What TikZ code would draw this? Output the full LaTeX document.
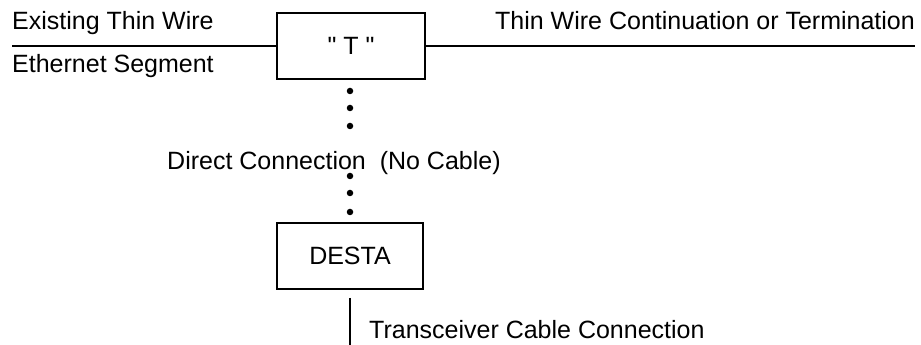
\documentclass[tikz,border=0pt]{standalone}
\usepackage{fontspec}
\setmainfont{Liberation Sans}
\newfontfamily\plainsans{Liberation Sans}
\begin{document}
\begin{tikzpicture}[x=1pt,y=1pt,
  every node/.style={font=\fontsize{25}{30}\selectfont, inner sep=0pt},
  box/.style={draw, line width=1.6pt, minimum height=66pt},
  wire/.style={line width=1.6pt},
  dot/.style={circle, fill=black, minimum size=6.5pt, inner sep=0pt}]
\useasboundingbox (0,0) rectangle (921,345);
% boxes
\node[box, minimum width=148pt] (T) at (351,299) {\plainsans " T "};
\node[box, minimum width=146pt] (desta) at (350,89) {DESTA};
% wire ends
\coordinate (wl) at (12,299);
\coordinate (wr) at (915,299);
\coordinate (ct) at (350,47);
\coordinate (cb) at (350,0);
\draw[wire] (wl) -- (T.west);
\draw[wire] (T.east) -- (wr);
\draw[line width=1.4pt] (ct) -- (cb);
% dots
\node[dot] (d1) at (350,254) {};
\node[dot] (d2) at (350,237) {};
\node[dot] (d3) at (350,219) {};
\node[dot] (d4) at (350,169) {};
\node[dot] (d5) at (350,152) {};
\node[dot] (d6) at (350,133) {};
% labels
\node[anchor=base west] (l1) at (12,315) {Existing Thin Wire};
\node[anchor=base west] (l2) at (12,272) {Ethernet Segment};
\node[anchor=base east] (l3) at (915,315) {Thin Wire Continuation or Termination};
\node[anchor=base west] (l4) at (167,175) {Direct Connection\ \ (No Cable)};
\node[anchor=base west] (l5) at (369,6) {Transceiver Cable Connection};
\end{tikzpicture}
\end{document}
